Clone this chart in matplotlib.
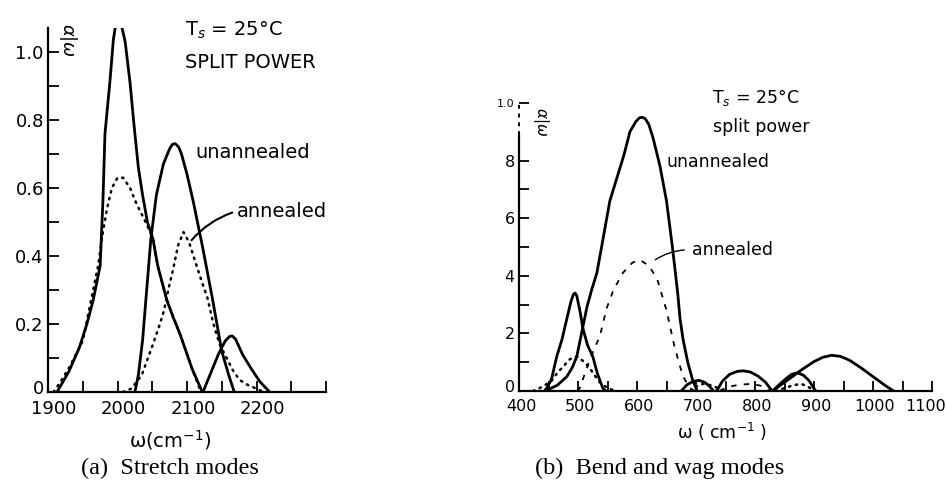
import matplotlib
matplotlib.use("Agg")
import matplotlib.pyplot as plt
from matplotlib.ticker import MultipleLocator, FixedLocator
from matplotlib.transforms import ScaledTranslation

# ---------------- data: (a) stretch modes ----------------
a_unann1_w = [1913, 1930, 1945, 1956, 1965, 1975, 1979, 1982, 1989, 1994, 1997, 2001, 2006, 2011, 2018, 2024, 2030, 2036, 2043, 2051, 2058, 2071, 2080, 2090, 2107, 2122]
a_unann1_v = [0, 0.06, 0.13, 0.2, 0.27, 0.37, 0.56, 0.76, 0.91, 1.035, 1.075, 1.09, 1.075, 1.03, 0.91, 0.78, 0.66, 0.58, 0.5, 0.45, 0.37, 0.27, 0.22, 0.17, 0.07, 0]
a_unann2_w = [2025, 2030, 2036, 2042, 2048, 2056, 2066, 2075, 2079, 2083, 2088, 2092, 2100, 2109, 2123, 2137, 2150, 2160, 2168]
a_unann2_v = [0, 0.05, 0.15, 0.3, 0.45, 0.58, 0.67, 0.715, 0.728, 0.73, 0.72, 0.7, 0.64, 0.56, 0.42, 0.27, 0.12, 0.05, 0]
a_unann3_w = [2123, 2135, 2145, 2155, 2161, 2165, 2170, 2180, 2192, 2205, 2219]
a_unann3_v = [0, 0.06, 0.11, 0.15, 0.163, 0.165, 0.155, 0.11, 0.07, 0.03, 0]
a_ann1_w = [1908, 1918, 1930, 1945, 1950, 1960, 1972, 1979, 1985, 1992, 2000, 2008, 2018, 2028, 2038, 2047, 2051, 2058, 2071, 2090, 2107, 2120]
a_ann1_v = [0, 0.03, 0.07, 0.13, 0.15, 0.25, 0.37, 0.47, 0.54, 0.6, 0.63, 0.63, 0.6, 0.55, 0.51, 0.47, 0.45, 0.37, 0.27, 0.17, 0.07, 0]
a_ann2_w = [2008, 2020, 2035, 2042, 2051, 2061, 2067, 2073, 2080, 2087, 2095, 2103, 2114, 2122, 2129, 2138, 2147, 2157, 2167, 2176, 2188, 2200, 2210]
a_ann2_v = [0, 0.01, 0.05, 0.09, 0.14, 0.2, 0.24, 0.3, 0.36, 0.43, 0.47, 0.44, 0.37, 0.32, 0.28, 0.2, 0.14, 0.1, 0.06, 0.035, 0.02, 0.01, 0]
a_xticks = [1900, 2000, 2100, 2200]
a_yticks = [0, 0.2, 0.4, 0.6, 0.8, 1.0]
a_yticklabels = ["0", "0.2", "0.4", "0.6", "0.8", "1.0"]

# ---------------- data: (b) bend and wag modes ----------------
b_unann_big_w = [444, 465, 481, 490, 498, 508, 515, 523, 532, 540, 554, 566, 578, 588, 598, 604, 609, 614, 620, 627, 639, 650, 660, 669, 673, 678, 686, 694, 702]
b_unann_big_v = [0, 0.2, 0.5, 0.8, 1.2, 2.2, 2.9, 3.5, 4.1, 5.0, 6.6, 7.4, 8.2, 9.0, 9.35, 9.48, 9.5, 9.45, 9.25, 8.8, 7.8, 6.6, 5.0, 3.4, 2.5, 1.8, 1.0, 0.4, 0]
b_unann_small_w = [443, 447, 455, 464, 473, 481, 488, 492, 495, 498, 501, 504, 508, 516, 525, 533, 542, 547]
b_unann_small_v = [0, 0.1, 0.4, 1.2, 1.8, 2.5, 3.1, 3.35, 3.4, 3.3, 3.0, 2.7, 2.2, 1.6, 1.2, 0.6, 0.1, 0]
b_unann_h1_w = [675, 685, 695, 705, 715, 722, 730]
b_unann_h1_v = [0, 0.22, 0.33, 0.37, 0.3, 0.18, 0]
b_unann_h2_w = [735, 745, 757, 770, 780, 792, 805, 818, 829]
b_unann_h2_v = [0, 0.35, 0.58, 0.68, 0.7, 0.66, 0.52, 0.3, 0]
b_unann_h3_w = [830, 840, 852, 862, 872, 882, 892, 898, 903]
b_unann_h3_v = [0, 0.2, 0.42, 0.58, 0.63, 0.55, 0.35, 0.15, 0]
b_unann_h4_w = [830, 845, 860, 880, 900, 915, 930, 945, 960, 980, 1000, 1020, 1035]
b_unann_h4_v = [0, 0.23, 0.45, 0.75, 1.02, 1.17, 1.24, 1.2, 1.07, 0.8, 0.5, 0.2, 0]
b_ann_small_w = [424, 440, 455, 464, 475, 486, 498, 508, 518, 528, 537, 547, 557, 565]
b_ann_small_v = [0, 0.15, 0.35, 0.6, 0.85, 1.1, 1.2, 1.05, 0.85, 0.55, 0.3, 0.15, 0.05, 0]
b_ann_big_w = [498, 503, 520, 537, 549, 560, 576, 592, 605, 620, 634, 650, 664, 678, 690, 698]
b_ann_big_v = [0, 0.1, 1.1, 1.9, 2.9, 3.5, 4.1, 4.45, 4.55, 4.35, 3.9, 2.8, 1.5, 0.5, 0.1, 0]
b_ann_h1_w = [690, 700, 712, 725, 740, 750]
b_ann_h1_v = [0, 0.15, 0.25, 0.2, 0.08, 0]
b_ann_h2_w = [740, 755, 775, 795, 810, 825]
b_ann_h2_v = [0, 0.15, 0.22, 0.25, 0.18, 0]
b_ann_h3_w = [835, 850, 865, 878, 890, 900]
b_ann_h3_v = [0, 0.1, 0.2, 0.25, 0.15, 0]
b_xticks = [400, 500, 600, 700, 800, 900, 1000, 1100]
b_yticks = [0, 2, 4, 6, 8, 10]
b_yticklabels = ["0", "2", "4", "6", "8", "1.0"]

# ---------------- figure ----------------
W, H = 946, 490
fig = plt.figure(figsize=(W / 100, H / 100), dpi=100)
FONT = "DejaVu Sans"
plt.rcParams["font.family"] = FONT
plt.rcParams["mathtext.fontset"] = "dejavusans"

def fx(px):
    return px / W

def fy(py):
    return 1 - py / H

def box(x0, y0, x1, y1):
    return [fx(x0), fy(y1), fx(x1) - fx(x0), fy(y0) - fy(y1)]

def shift_labels(labels, dx_px, dy_px=0):
    for lab in labels:
        lab.set_transform(lab.get_transform() + ScaledTranslation(dx_px / 100, dy_px / 100, fig.dpi_scale_trans))

solid = dict(color="black", lw=2.0, solid_joinstyle="round", solid_capstyle="round")
dotted = dict(color="black", lw=1.8, linestyle=(0, (0.6, 2.2)), dash_capstyle="round")
dashed = dict(color="black", lw=1.3, linestyle=(0, (3, 4)))

# ---- panel (a) ----
ax1 = fig.add_axes(box(48, 28, 326, 392))
ax1.set_xlim(1900, 2300)
ax1.set_ylim(0, 1.07)
for s in ("top", "right"):
    ax1.spines[s].set_visible(False)
for s in ("left", "bottom"):
    ax1.spines[s].set_linewidth(1.6)
ax1.plot(a_unann1_w, a_unann1_v, **solid)
ax1.plot(a_unann2_w, a_unann2_v, **solid)
ax1.plot(a_unann3_w, a_unann3_v, **solid)
ax1.plot(a_ann1_w, a_ann1_v, **dotted)
ax1.plot(a_ann2_w, a_ann2_v, **dotted)
ax1.set_xticks(a_xticks)
ax1.set_xticklabels([str(t) for t in a_xticks])
ax1.xaxis.set_minor_locator(FixedLocator([1950, 2050, 2150, 2250, 2300]))
ax1.set_yticks(a_yticks)
ax1.set_yticklabels(a_yticklabels)
ax1.yaxis.set_minor_locator(FixedLocator([0.1, 0.3, 0.5, 0.7, 0.9]))
ax1.tick_params(which="both", direction="in", length=8, width=1.3, labelsize=13)
ax1.tick_params(axis="x", pad=6)
ax1.tick_params(axis="y", pad=3)
shift_labels(ax1.get_xticklabels(), 6)
shift_labels(ax1.get_yticklabels()[:1], 0, 5)
ax1.text(0.072, 0.967, r"$\alpha|\omega$", transform=ax1.transAxes, rotation=-90,
         fontsize=13, ha="center", va="center")
ax1.annotate("", xy=(2104, 0.44), xytext=(2169, 0.53),
             arrowprops=dict(arrowstyle="-", color="black", lw=1.5,
                             connectionstyle="arc3,rad=0.15"))

fig.text(fx(185), fy(30), r"T$_s$ = 25$\degree$C", fontsize=14, ha="left", va="center")
fig.text(fx(185), fy(63), "SPLIT POWER", fontsize=14, ha="left", va="center")
fig.text(fx(195), fy(152), "unannealed", fontsize=14, ha="left", va="center")
fig.text(fx(237), fy(211), "annealed", fontsize=14, ha="left", va="center")
fig.text(fx(170), fy(440), r"ω(cm$^{-1}$)", fontsize=14, ha="center", va="center")
fig.text(fx(170), fy(468), "(a)  Stretch modes", fontsize=17.5, ha="center", va="center",
         family="Liberation Serif")

# ---- panel (b) ----
ax2 = fig.add_axes(box(519, 100, 932, 391))
ax2.set_xlim(400, 1100)
ax2.set_ylim(0, 10.1)
for s in ("top", "right"):
    ax2.spines[s].set_visible(False)
ax2.spines["bottom"].set_linewidth(1.6)
ax2.spines["left"].set_linewidth(1.6)
ax2.spines["left"].set_bounds(0, 8.9)
ax2.plot([400, 400], [8.9, 10.1], color="black", lw=1.4, linestyle=(0, (2, 2.5)), clip_on=False)
ax2.plot(b_unann_big_w, b_unann_big_v, **solid)
ax2.plot(b_unann_small_w, b_unann_small_v, **solid)
ax2.plot(b_unann_h1_w, b_unann_h1_v, **solid)
ax2.plot(b_unann_h2_w, b_unann_h2_v, **solid)
ax2.plot(b_unann_h3_w, b_unann_h3_v, **solid)
ax2.plot(b_unann_h4_w, b_unann_h4_v, **solid)
ax2.plot(b_ann_small_w, b_ann_small_v, **dotted)
ax2.plot(b_ann_big_w, b_ann_big_v, **dashed)
ax2.plot(b_ann_h1_w, b_ann_h1_v, **dotted)
ax2.plot(b_ann_h2_w, b_ann_h2_v, **dashed)
ax2.plot(b_ann_h3_w, b_ann_h3_v, **dotted)
ax2.set_xticks(b_xticks)
ax2.set_xticklabels([str(t) for t in b_xticks])
ax2.xaxis.set_minor_locator(MultipleLocator(50))
ax2.set_yticks(b_yticks)
ax2.set_yticklabels(b_yticklabels)
ax2.yaxis.set_minor_locator(FixedLocator([1, 3, 5, 7]))
ax2.tick_params(which="both", direction="in", length=7, width=1.3, labelsize=11.5)
ax2.tick_params(axis="x", pad=6)
ax2.tick_params(axis="y", pad=3)
ax2.get_yticklabels()[-1].set_fontsize(8)
xl = ax2.get_xticklabels()
shift_labels(xl[:-1], 2)
shift_labels(xl[-1:], -6)
shift_labels(ax2.get_yticklabels()[:1], 0, 5)
ax2.text(0.053, 0.925, r"$\alpha|\omega$", transform=ax2.transAxes, rotation=-90,
         fontsize=11, ha="center", va="center")
ax2.annotate("", xy=(627, 4.5), xytext=(685, 4.9),
             arrowprops=dict(arrowstyle="-", color="black", lw=1.0,
                             connectionstyle="arc3,rad=0.15"))

fig.text(fx(712), fy(98), r"T$_s$ = 25$\degree$C", fontsize=12.5, ha="left", va="center")
fig.text(fx(713), fy(127), "split power", fontsize=12.5, ha="left", va="center")
fig.text(fx(666), fy(162), "unannealed", fontsize=12.5, ha="left", va="center")
fig.text(fx(692), fy(250), "annealed", fontsize=12.5, ha="left", va="center")
fig.text(fx(722), fy(432), r"ω ( cm$^{-1}$ )", fontsize=12.5, ha="center", va="center")
fig.text(fx(660), fy(468), "(b)  Bend and wag modes", fontsize=17.5, ha="center", va="center",
         family="Liberation Serif")

fig.savefig("out.png", dpi=100)
